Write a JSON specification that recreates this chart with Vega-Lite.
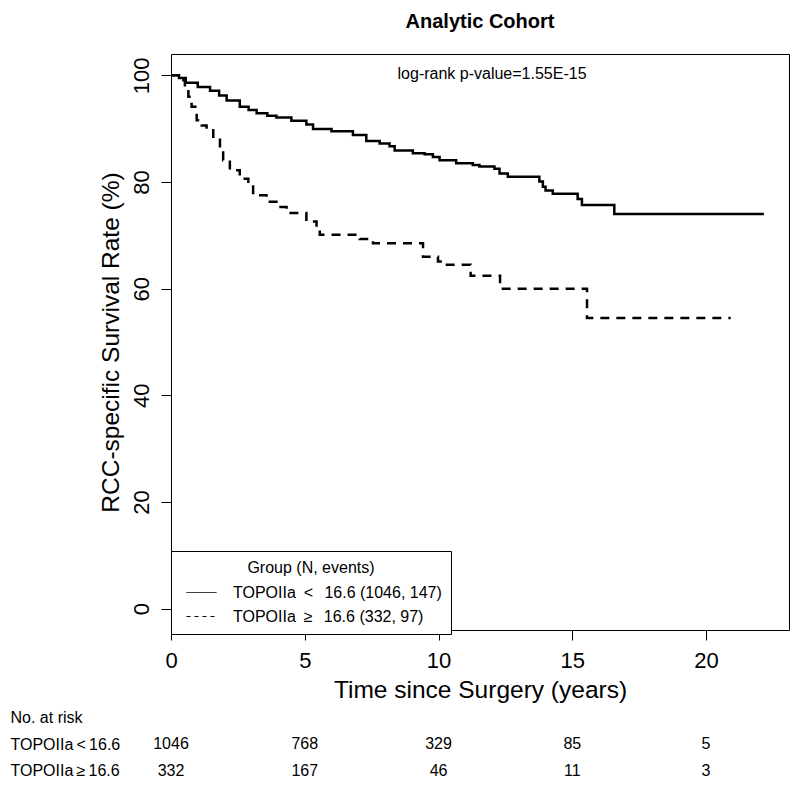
{
  "$schema": "https://vega.github.io/schema/vega-lite/v6.json",
  "background": "white",
  "padding": {"left": 10, "top": 11, "right": 11, "bottom": 4},
  "config": {
    "font": "Liberation Sans",
    "view": {"stroke": "black", "strokeWidth": 1},
    "axis": {"grid": false, "domain": false, "tickColor": "black", "labelColor": "black", "titleColor": "black", "titleFontWeight": "normal"}
  },
  "spacing": 2,
  "resolve": {
    "scale": {"x": "independent", "y": "independent"},
    "axis": {"x": "independent", "y": "independent"},
    "legend": {"strokeDash": "independent"}
  },
  "vconcat": [
    {
      "width": 618,
      "height": 576,
      "title": {"text": "Analytic Cohort", "fontSize": 20, "fontWeight": "bold", "anchor": "middle", "frame": "group", "baseline": "alphabetic", "offset": 6, "color": "black"},
      "encoding": {
        "x": {
          "field": "t", "type": "quantitative",
          "scale": {"domain": [0, 23.1], "nice": false, "zero": false},
          "axis": {"values": [0, 5, 10, 15, 20], "tickSize": 10, "labelFontSize": 22, "labelPadding": 10, "labelFlush": false, "labelOverlap": false,
                   "title": "Time since Surgery (years)", "titleFontSize": 24.5, "titleY": 67, "titleBaseline": "alphabetic"}
        },
        "y": {
          "field": "s", "type": "quantitative",
          "scale": {"domain": [-4, 104], "nice": false, "zero": false},
          "axis": {"values": [0, 20, 40, 60, 80, 100], "tickSize": 10, "labelAngle": -90, "labelAlign": "center", "labelBaseline": "alphabetic",
                   "labelPadding": 13, "labelFontSize": 22, "labelOverlap": false,
                   "title": "RCC-specific Survival Rate (%)", "titleFontSize": 24.5, "titleX": -53, "titleY": 288, "titleAngle": -90,
                   "titleAlign": "center", "titleBaseline": "alphabetic"}
        }
      },
      "layer": [
        {
          "data": {"values": [
            {"group": "lo", "t": 0, "s": 100}, {"group": "lo", "t": 0.3, "s": 99.5}, {"group": "lo", "t": 0.55, "s": 98.6},
            {"group": "lo", "t": 1.0, "s": 97.8}, {"group": "lo", "t": 1.46, "s": 97.1}, {"group": "lo", "t": 1.8, "s": 96.2},
            {"group": "lo", "t": 2.08, "s": 95.3}, {"group": "lo", "t": 2.57, "s": 94.1}, {"group": "lo", "t": 2.9, "s": 93.5},
            {"group": "lo", "t": 3.2, "s": 92.9}, {"group": "lo", "t": 3.6, "s": 92.4}, {"group": "lo", "t": 3.94, "s": 92.1},
            {"group": "lo", "t": 4.5, "s": 91.5}, {"group": "lo", "t": 5.06, "s": 90.8}, {"group": "lo", "t": 5.31, "s": 89.95},
            {"group": "lo", "t": 6.0, "s": 89.5}, {"group": "lo", "t": 6.8, "s": 88.8}, {"group": "lo", "t": 7.3, "s": 87.7},
            {"group": "lo", "t": 7.8, "s": 87.2}, {"group": "lo", "t": 8.17, "s": 86.7}, {"group": "lo", "t": 8.36, "s": 85.9},
            {"group": "lo", "t": 9.04, "s": 85.4}, {"group": "lo", "t": 9.48, "s": 85.2}, {"group": "lo", "t": 9.79, "s": 84.7},
            {"group": "lo", "t": 10.04, "s": 84.1}, {"group": "lo", "t": 10.66, "s": 83.5}, {"group": "lo", "t": 11.28, "s": 83.2},
            {"group": "lo", "t": 11.53, "s": 82.9}, {"group": "lo", "t": 12.09, "s": 82.5}, {"group": "lo", "t": 12.28, "s": 81.6},
            {"group": "lo", "t": 12.59, "s": 81.0}, {"group": "lo", "t": 13.77, "s": 80.1}, {"group": "lo", "t": 13.9, "s": 79.1},
            {"group": "lo", "t": 14.0, "s": 78.4}, {"group": "lo", "t": 14.27, "s": 77.8}, {"group": "lo", "t": 15.2, "s": 76.8},
            {"group": "lo", "t": 15.36, "s": 75.7}, {"group": "lo", "t": 16.57, "s": 74.0}, {"group": "lo", "t": 22.16, "s": 74.0}
          ]},
          "mark": {"type": "line", "interpolate": "step-after", "color": "black", "strokeWidth": 2.5}
        },
        {
          "data": {"values": [
            {"group": "hi", "t": 0, "s": 100}, {"group": "hi", "t": 0.34, "s": 99.1}, {"group": "hi", "t": 0.52, "s": 97.8},
            {"group": "hi", "t": 0.65, "s": 96.0}, {"group": "hi", "t": 0.77, "s": 94.1}, {"group": "hi", "t": 0.96, "s": 91.6},
            {"group": "hi", "t": 1.15, "s": 90.6}, {"group": "hi", "t": 1.33, "s": 89.7}, {"group": "hi", "t": 1.58, "s": 88.2},
            {"group": "hi", "t": 1.83, "s": 86.0}, {"group": "hi", "t": 1.95, "s": 84.1}, {"group": "hi", "t": 2.2, "s": 82.2},
            {"group": "hi", "t": 2.57, "s": 80.6}, {"group": "hi", "t": 2.89, "s": 79.4}, {"group": "hi", "t": 3.07, "s": 77.5},
            {"group": "hi", "t": 3.57, "s": 76.3}, {"group": "hi", "t": 3.94, "s": 75.3}, {"group": "hi", "t": 4.32, "s": 74.2},
            {"group": "hi", "t": 5.06, "s": 72.6}, {"group": "hi", "t": 5.44, "s": 71.3}, {"group": "hi", "t": 5.56, "s": 70.1},
            {"group": "hi", "t": 7.05, "s": 69.3}, {"group": "hi", "t": 7.55, "s": 68.5}, {"group": "hi", "t": 9.42, "s": 66.0},
            {"group": "hi", "t": 9.98, "s": 65.1}, {"group": "hi", "t": 10.16, "s": 64.5}, {"group": "hi", "t": 11.2, "s": 62.4},
            {"group": "hi", "t": 12.3, "s": 60.0}, {"group": "hi", "t": 15.55, "s": 54.5}, {"group": "hi", "t": 20.92, "s": 54.5}
          ]},
          "mark": {"type": "line", "interpolate": "step-after", "color": "black", "strokeWidth": 2.5, "strokeDash": [9, 7]}
        },
        {
          "data": {"values": []},
          "mark": {"type": "line", "color": "black", "strokeWidth": 1},
          "encoding": {
            "strokeDash": {
              "field": "group", "type": "nominal",
              "scale": {"domain": ["lo", "hi"], "range": [[1, 0], [4, 4]]},
              "legend": {
                "orient": "none", "legendX": 0, "legendY": 497, "direction": "vertical",
                "title": "Group (N, events)", "titleFontSize": 16, "titleFontWeight": "normal", "titleColor": "black", "titleAnchor": "middle", "titlePadding": 1,
                "labelFontSize": 16, "labelColor": "black", "labelOffset": 16, "labelLimit": 400,
                "labelExpr": "datum.value == 'lo' ? 'TOPOIIa\u2002<\u2002\u200916.6 (1046, 147)' : 'TOPOIIa\u2002\u2265\u2002\u200916.6 (332, 97)'",
                "symbolType": "stroke", "symbolSize": 900, "symbolStrokeWidth": 1, "symbolStrokeColor": "black", "symbolOffset": 6,
                "strokeColor": "black", "fillColor": "white", "padding": 9, "rowPadding": -4
              }
            }
          }
        },
        {
          "data": {"values": [{"t": 12, "s": 100.3, "label": "log-rank p-value=1.55E-15"}]},
          "mark": {"type": "text", "fontSize": 16, "align": "center", "baseline": "middle", "color": "black"},
          "encoding": {
            "text": {"field": "label"}
          }
        }
      ]
    },
    {
      "width": 618,
      "height": 80,
      "view": {"stroke": null},
      "data": {"values": [
        {"row": "TOPOIIa\u2009<\u200916.6", "t": 0, "n": "1046"},
        {"row": "TOPOIIa\u2009<\u200916.6", "t": 5, "n": "768"},
        {"row": "TOPOIIa\u2009<\u200916.6", "t": 10, "n": "329"},
        {"row": "TOPOIIa\u2009<\u200916.6", "t": 15, "n": "85"},
        {"row": "TOPOIIa\u2009<\u200916.6", "t": 20, "n": "5"},
        {"row": "TOPOIIa\u2009\u2265\u200916.6", "t": 0, "n": "332"},
        {"row": "TOPOIIa\u2009\u2265\u200916.6", "t": 5, "n": "167"},
        {"row": "TOPOIIa\u2009\u2265\u200916.6", "t": 10, "n": "46"},
        {"row": "TOPOIIa\u2009\u2265\u200916.6", "t": 15, "n": "11"},
        {"row": "TOPOIIa\u2009\u2265\u200916.6", "t": 20, "n": "3"}
      ]},
      "mark": {"type": "text", "fontSize": 16, "align": "center", "baseline": "middle", "color": "black"},
      "encoding": {
        "x": {"field": "t", "type": "quantitative", "scale": {"domain": [0, 23.1], "nice": false, "zero": false}, "axis": null},
        "y": {
          "field": "row", "type": "nominal",
          "scale": {"domain": ["No. at risk", "TOPOIIa\u2009<\u200916.6", "TOPOIIa\u2009\u2265\u200916.6"]},
          "axis": {"title": null, "ticks": false, "domain": false, "labelAlign": "left", "labelPadding": 161, "labelFontSize": 16, "labelBaseline": "middle", "labelColor": "black", "labelLimit": 300}
        },
        "text": {"field": "n"}
      }
    }
  ]
}
